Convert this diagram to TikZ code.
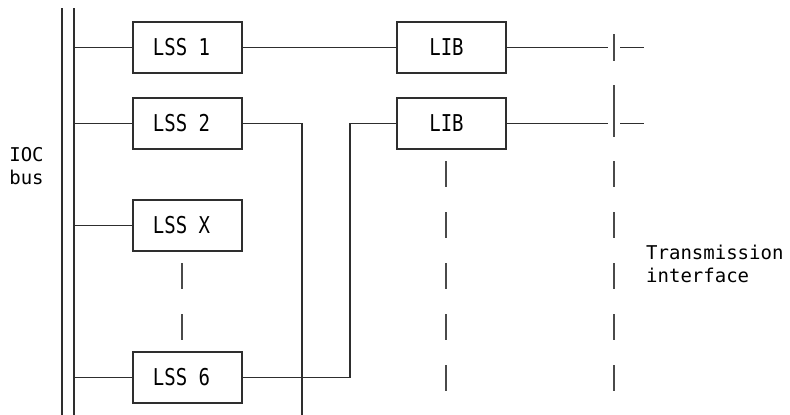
\documentclass[tikz,border=0pt]{standalone}
\usepackage{fontspec}
\usepackage{graphicx}
\setmonofont{DejaVu Sans Mono}
\definecolor{ink}{HTML}{2E2E2E}
\definecolor{dashink}{HTML}{4A4A4A}
\newcommand\tallbox[1]{\scalebox{1}[1.22]{#1}}
\begin{document}
\begin{tikzpicture}[x=1pt,y=-1pt,
  line/.style={draw=ink,line width=1.4pt},
  busline/.style={draw=ink,line width=1.8pt},
  barline/.style={draw=dashink,line width=1.9pt},
  dashline/.style={draw=dashink,line width=1.9pt,dash pattern=on 26pt off 25pt},
  box/.style={draw=ink,line width=1.4pt,minimum width=109pt,minimum height=51pt,inner sep=0pt},
  boxtext/.style={font=\ttfamily\fontsize{19}{23}\selectfont,inner sep=0pt,text=black},
  lbl/.style={font=\ttfamily\fontsize{19}{23}\selectfont,align=left,inner sep=0pt,text=black}
]
\useasboundingbox (0,0) rectangle (790,415);

% IOC bus
\coordinate (busLt) at (62,8);
\coordinate (busLb) at (62,415);
\coordinate (busRt) at (74,8);
\coordinate (busRb) at (74,415);
\draw[busline] (busLt) -- (busLb);
\draw[busline] (busRt) -- (busRb);

% boxes
\node[box] (lss1) at (187.5,47.5) {};
\node[box] (lss2) at (187.5,123.5) {};
\node[box] (lssx) at (187.5,225.5) {};
\node[box] (lss6) at (187.5,377.5) {};
\node[box] (lib1) at (451.5,47.5) {};
\node[box] (lib2) at (451.5,123.5) {};

\node[boxtext] (lss1t) at ([xshift=-6pt]lss1.center) {\tallbox{LSS 1}};
\node[boxtext] (lss2t) at ([xshift=-6pt]lss2.center) {\tallbox{LSS 2}};
\node[boxtext] (lssxt) at ([xshift=-6pt]lssx.center) {\tallbox{LSS X}};
\node[boxtext] (lss6t) at ([xshift=-6pt]lss6.center) {\tallbox{LSS 6}};
\node[boxtext] (lib1t) at ([xshift=-5pt]lib1.center) {\tallbox{LIB}};
\node[boxtext] (lib2t) at ([xshift=-5pt]lib2.center) {\tallbox{LIB}};

% bus taps
\draw[line] (lss1.west -| busRt) -- (lss1.west);
\draw[line] (lss2.west -| busRt) -- (lss2.west);
\draw[line] (lssx.west -| busRt) -- (lssx.west);
\draw[line] (lss6.west -| busRt) -- (lss6.west);

% LSS to LIB
\draw[line] (lss1.east) -- (lib1.west);
\coordinate (c2) at (302,415);
\draw[line] (lss2.east) -| (c2);
\coordinate (c6) at (350,0);
\draw[line] (lss6.east) -- (lss6.east -| c6) |- (lib2.west);

% dashed continuation LSS X .. LSS 6
\coordinate (dxa) at (182,263);
\coordinate (dxb) at (182,340);
\draw[dashline] (dxa) -- (dxb);

% dashed continuation under LIB
\coordinate (dla) at (446,161);
\coordinate (dlb) at (446,391);
\draw[dashline] (dla) -- (dlb);

% transmission interface
\coordinate (t1a) at (614,34);
\coordinate (t1b) at (614,61);
\coordinate (t2a) at (614,85);
\coordinate (t2b) at (614,137);
\coordinate (t3a) at (614,161);
\coordinate (t3b) at (614,391);
\coordinate (r1a) at (608,47.5);
\coordinate (r1b) at (620,47.5);
\coordinate (r1c) at (644,47.5);
\coordinate (r2a) at (608,123.5);
\coordinate (r2b) at (620,123.5);
\coordinate (r2c) at (644,123.5);
\draw[line] (lib1.east) -- (r1a);
\draw[line] (r1b) -- (r1c);
\draw[line] (lib2.east) -- (r2a);
\draw[line] (r2b) -- (r2c);
\draw[barline] (t1a) -- (t1b);
\draw[barline] (t2a) -- (t2b);
\draw[dashline] (t3a) -- (t3b);

% labels
\node[lbl] (ioc) at (26.5,166) {IOC\\bus};
\node[lbl,anchor=west] (txi) at (646,263.5) {Transmission\\interface};
\end{tikzpicture}
\end{document}
